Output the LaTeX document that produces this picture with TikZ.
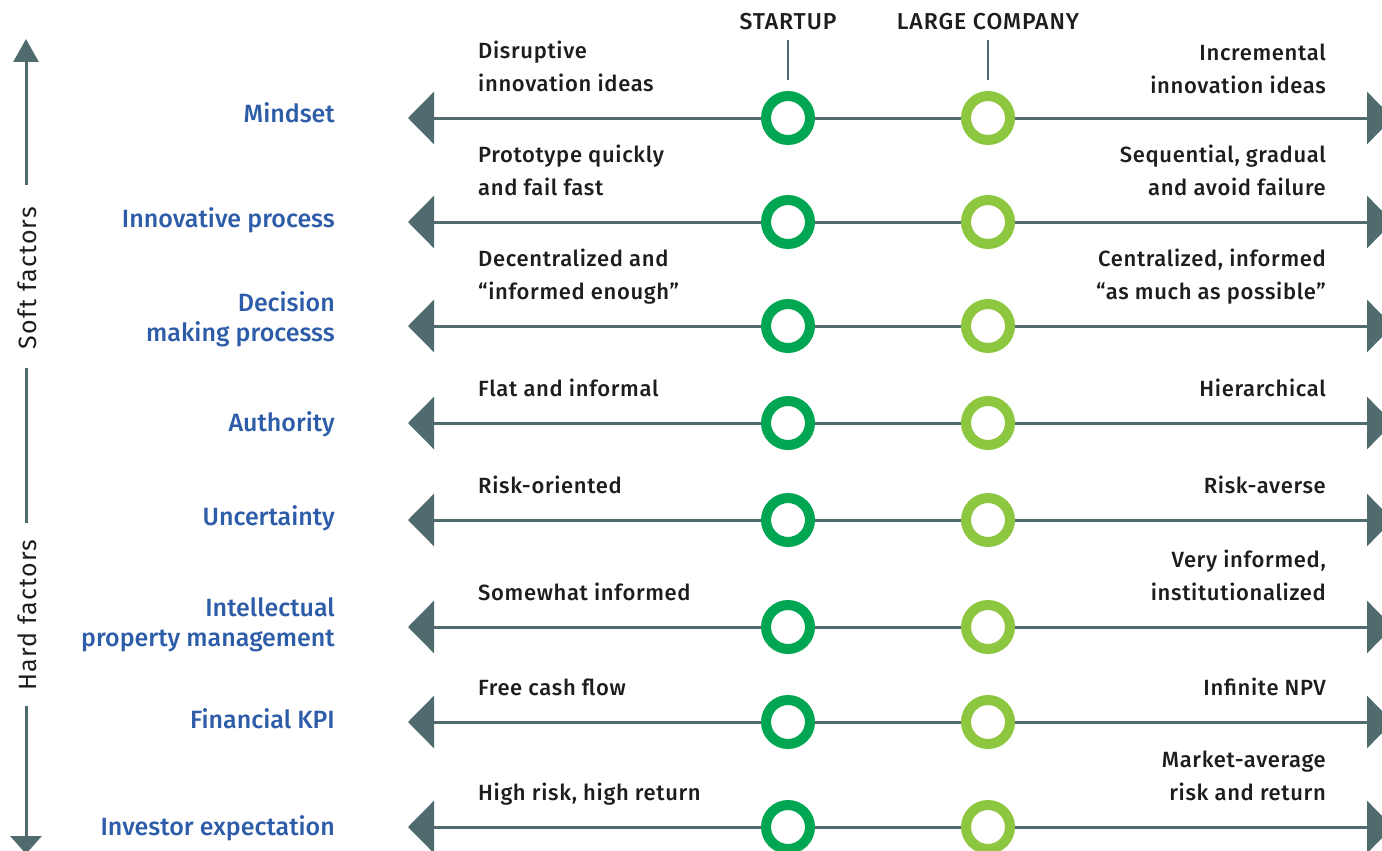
\documentclass[tikz,border=0pt]{standalone}
\usepackage{fontspec}
\setmainfont{Fira Sans}[BoldFont={Fira Sans Medium}]
\usetikzlibrary{arrows.meta}
\definecolor{axisc}{HTML}{506B6E}
\definecolor{dgreen}{HTML}{00A651}
\definecolor{lgreen}{HTML}{8DC63F}
\definecolor{lblue}{HTML}{2D5CA8}
\definecolor{txt}{HTML}{1D1D1B}
\newcommand\lblock[1]{\begin{tabular}[b]{@{}l@{}}#1\end{tabular}}
\newcommand\rblock[1]{\begin{tabular}[b]{@{}r@{}}#1\end{tabular}}
\begin{document}
\begin{tikzpicture}[x=1pt,y=-1pt,
  rowline/.style={draw=axisc, line width=3pt,
    {Triangle[length=26pt,width=52pt]}-{Triangle[length=26pt,width=52pt]}},
  vline/.style={draw=axisc, line width=3pt},
  tickline/.style={draw=axisc, line width=2.5pt},
  startc/.style={circle, draw=dgreen, line width=10pt, fill=white, minimum size=44pt, inner sep=0pt},
  largec/.style={circle, draw=lgreen, line width=10pt, fill=white, minimum size=44pt, inner sep=0pt},
  hdr/.style={font=\bfseries\fontsize{23}{26}\selectfont\addfontfeatures{LetterSpace=4}, text=txt, anchor=base, inner sep=0pt},
  lab/.style={font=\bfseries\fontsize{25}{30}\selectfont, text=lblue, anchor=base east, inner sep=0pt},
  ldesc/.style={font=\bfseries\fontsize{22}{33}\selectfont\addfontfeatures{LetterSpace=3}, text=txt, anchor=base west, inner sep=0pt},
  rdesc/.style={font=\bfseries\fontsize{22}{33}\selectfont\addfontfeatures{LetterSpace=3}, text=txt, anchor=base east, inner sep=0pt},
  side/.style={font=\fontsize{25}{28}\selectfont\addfontfeatures{LetterSpace=5}, text=txt, rotate=90, inner sep=0pt}
]
\useasboundingbox (0,0) rectangle (1382,851);
\clip (0,0) rectangle (1382,851);

% headers and ticks
\node[hdr] (hs) at (788,30) {STARTUP};
\node[hdr] (hl) at (988,30) {LARGE COMPANY};
\coordinate (ts1) at (788,40); \coordinate (ts2) at (788,80);
\coordinate (tl1) at (988,40); \coordinate (tl2) at (988,80);
\draw[tickline] (ts1) -- (ts2);
\draw[tickline] (tl1) -- (tl2);

% rows
\foreach \y [count=\i] in {118,222,326,423,520,627,722,827} {
  \coordinate (L\i) at (408,\y);
  \coordinate (R\i) at (1393,\y);
  \draw[rowline] (L\i) -- (R\i);
  \node[startc] (s\i) at (788,\y) {};
  \node[largec] (c\i) at (988,\y) {};
}

% left labels
\node[lab] (lab1) at (335,122) {\rblock{Mindset}};
\node[lab] (lab2) at (335,227) {\rblock{Innovative process}};
\node[lab] (lab3) at (335,341) {\rblock{Decision\\making processs}};
\node[lab] (lab4) at (335,431) {\rblock{Authority}};
\node[lab] (lab5) at (335,525) {\rblock{Uncertainty}};
\node[lab] (lab6) at (335,646) {\rblock{Intellectual\\property management}};
\node[lab] (lab7) at (335,728) {\rblock{Financial KPI}};
\node[lab] (lab8) at (335,835) {\rblock{Investor expectation}};

% startup descriptions
\node[ldesc] (ld1) at (478,92) {\lblock{Disruptive\\innovation ideas}};
\node[ldesc] (ld2) at (478,195) {\lblock{Prototype quickly\\and fail fast}};
\node[ldesc] (ld3) at (478,299) {\lblock{Decentralized and\\“informed enough”}};
\node[ldesc] (ld4) at (478,396) {\lblock{Flat and informal}};
\node[ldesc] (ld5) at (478,493) {\lblock{Risk-oriented}};
\node[ldesc] (ld6) at (478,600) {\lblock{Somewhat informed}};
\node[ldesc] (ld7) at (478,695) {\lblock{Free cash flow}};
\node[ldesc] (ld8) at (478,800) {\lblock{High risk, high return}};

% large company descriptions
\node[rdesc] (rd1) at (1326,93) {\rblock{Incremental\\innovation ideas}};
\node[rdesc] (rd2) at (1326,195) {\rblock{Sequential, gradual\\and avoid failure}};
\node[rdesc] (rd3) at (1326,299) {\rblock{Centralized, informed\\“as much as possible”}};
\node[rdesc] (rd4) at (1326,396) {\rblock{Hierarchical}};
\node[rdesc] (rd5) at (1326,493) {\rblock{Risk-averse}};
\node[rdesc] (rd6) at (1326,600) {\rblock{Very informed,\\institutionalized}};
\node[rdesc] (rd7) at (1326,695) {\rblock{Infinite NPV}};
\node[rdesc] (rd8) at (1326,800) {\rblock{Market-average\\risk and return}};

% vertical axis
\node[side] (soft) at (27,278) {Soft factors};
\node[side] (hard) at (27,615) {Hard factors};
\coordinate (vtop) at (26,39);
\coordinate (v1) at (26,185);
\coordinate (v2) at (26,368);
\coordinate (v3) at (26,523);
\coordinate (v4) at (26,706);
\coordinate (vbot) at (26,854);
\draw[vline, -{Triangle[length=23pt,width=25pt]}] (v1) -- (vtop);
\draw[vline] (v2) -- (v3);
\draw[vline, -{Triangle[length=18pt,width=31pt]}] (v4) -- (vbot);
\end{tikzpicture}
\end{document}
